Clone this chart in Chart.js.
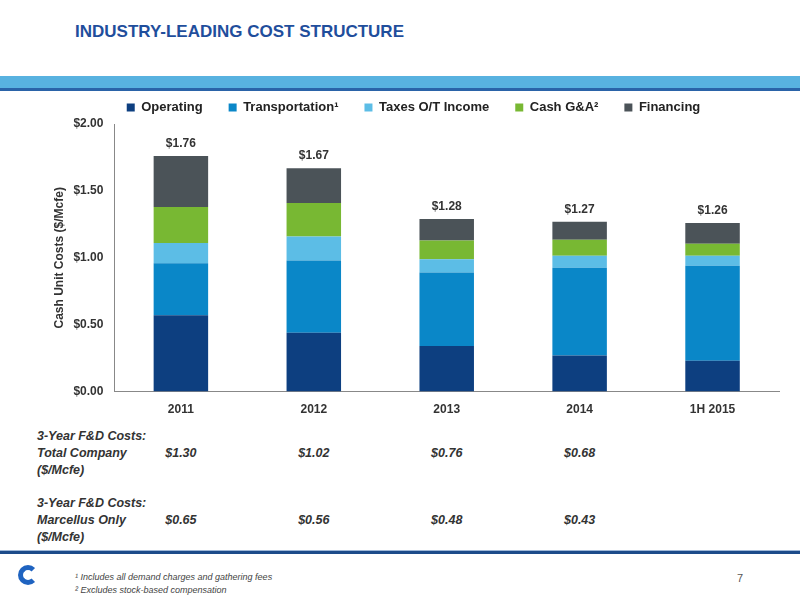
<!DOCTYPE html>
<html>
<head>
<meta charset="utf-8">
<script src="https://cdn.jsdelivr.net/npm/chart.js@4"></script>
<style>
  body { margin:0; width:800px; height:600px; position:relative; font-family:"Liberation Sans", Arial, sans-serif; background:#fff; overflow:hidden; }
  .title { position:absolute; left:75px; top:22px; font-size:17px; font-weight:bold; color:#1f4e9c; }
  .band { position:absolute; left:0; top:76px; width:800px; height:12px; background:#58b2e0; border-bottom:3px solid #2a63a8; }
  #wrap { position:absolute; left:0; top:75px; width:800px; height:345px; }
  .lbl { position:absolute; left:37px; font-size:12.5px; font-weight:bold; font-style:italic; color:#333; line-height:17px; }
  .val { position:absolute; font-size:12.5px; font-weight:bold; font-style:italic; color:#333; width:80px; text-align:center; }
  .rule { position:absolute; left:0; top:550px; width:800px; height:3px; background:#1d4b8a; border-top:1px solid #9fb8d8; }
  .note { position:absolute; left:75px; font-size:9px; font-style:italic; color:#444; }
  .page { position:absolute; left:737px; top:572px; font-size:11px; color:#555; }
  .logo { position:absolute; left:18px; top:565px; width:20px; height:20px; border-radius:50%; border:5px solid #1f63c0; border-right-color:transparent; box-sizing:border-box; }
</style>
</head>
<body>
<div class="title">INDUSTRY-LEADING COST STRUCTURE</div>
<div class="band"></div>
<div id="wrap"><canvas id="myChart"></canvas></div>

<div class="lbl" style="top:428px">3-Year F&amp;D Costs:<br>Total Company<br>($/Mcfe)</div>
<div class="lbl" style="top:495px">3-Year F&amp;D Costs:<br>Marcellus Only<br>($/Mcfe)</div>
<div id="rows"></div>

<div class="rule"></div>
<div class="logo"></div>
<div class="note" style="top:572px">¹ Includes all demand charges and gathering fees</div>
<div class="note" style="top:585px">² Excludes stock-based compensation</div>
<div class="page">7</div>

<script>
const years = ['2011', '2012', '2013', '2014', '1H 2015'];
const operating = [0.57, 0.44, 0.34, 0.27, 0.23];
const transportation = [0.39, 0.54, 0.55, 0.655, 0.71];
const taxes = [0.15, 0.18, 0.10, 0.09, 0.075];
const cashGA = [0.27, 0.25, 0.14, 0.12, 0.09];
const financing = [0.38, 0.26, 0.16, 0.135, 0.155];
const totals = ['$1.76', '$1.67', '$1.28', '$1.27', '$1.26'];
const fdTotal = ['$1.30', '$1.02', '$0.76', '$0.68'];
const fdMarcellus = ['$0.65', '$0.56', '$0.48', '$0.43'];

// total labels above each bar
const totalLabels = {
  id: 'totalLabels',
  afterDatasetsDraw(chart) {
    const ctx = chart.ctx;
    const last = chart.getDatasetMeta(4);
    ctx.save();
    ctx.font = 'bold 12px "Liberation Sans", Arial';
    ctx.fillStyle = '#333';
    ctx.textAlign = 'center';
    ctx.textBaseline = 'bottom';
    last.data.forEach((bar, i) => {
      ctx.fillText(totals[i], bar.x, bar.y - 6);
    });
    ctx.restore();
  }
};

const ds = (label, data, color) => ({
  label: label, data: data, backgroundColor: color,
  barPercentage: 0.41, categoryPercentage: 1
});

const chart = new Chart(document.getElementById('myChart'), {
  type: 'bar',
  data: {
    labels: years,
    datasets: [
      ds('Operating', operating, '#0d3f80'),
      ds('Transportation¹', transportation, '#0a87c8'),
      ds('Taxes O/T Income', taxes, '#5cbde6'),
      ds('Cash G&A²', cashGA, '#78b833'),
      ds('Financing', financing, '#4b5358')
    ]
  },
  options: {
    responsive: true,
    maintainAspectRatio: false,
    animation: false,
    layout: { padding: { right: 21, left: 48 } },
    plugins: {
      legend: {
        position: 'top',
        labels: { boxWidth: 8, boxHeight: 8, padding: 26, color: '#222', font: { size: 13, weight: 'bold', family: '"Liberation Sans", Arial' } }
      },
      tooltip: { enabled: false }
    },
    scales: {
      x: {
        stacked: true,
        grid: { display: false },
        border: { color: '#888' },
        ticks: { color: '#333', font: { size: 12, weight: 'bold' } }
      },
      y: {
        stacked: true,
        min: 0, max: 2,
        grid: { display: false },
        border: { color: '#888' },
        ticks: { stepSize: 0.5, color: '#333', font: { size: 12, weight: 'bold' }, callback: v => '$' + v.toFixed(2) },
        title: { display: true, text: 'Cash Unit Costs ($/Mcfe)', color: '#333', font: { size: 12, weight: 'bold' } }
      }
    }
  },
  plugins: [totalLabels]
});

// F&D rows aligned with bar centers
const meta = chart.getDatasetMeta(0);
const rows = document.getElementById('rows');
function addRow(vals, top) {
  vals.forEach((v, i) => {
    const d = document.createElement('div');
    d.className = 'val';
    d.style.top = top + 'px';
    d.style.left = (meta.data[i].x - 40) + 'px';
    d.textContent = v;
    rows.appendChild(d);
  });
}
addRow(fdTotal, 446);
addRow(fdMarcellus, 513);
</script>
</body>
</html>
